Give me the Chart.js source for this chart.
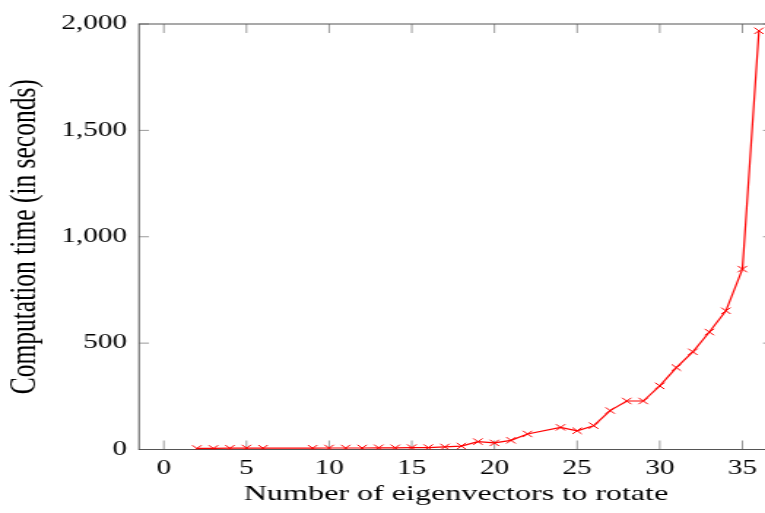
<!DOCTYPE html>
<html>
<head>
<meta charset="utf-8">
<script src="https://cdn.jsdelivr.net/npm/chart.js@4/dist/chart.umd.min.js"></script>
<style>
  html, body { margin: 0; padding: 0; overflow: hidden; background: #fff; width: 765px; height: 513px; }
  #wrap { position: absolute; left: 0; top: 0; width: 540px; height: 513px; transform: scaleX(1.46); transform-origin: 0 0; }
  canvas { display: block; }
</style>
</head>
<body>
<div id="wrap"><canvas id="c" width="540" height="513"></canvas></div>
<script>
// ---- data ----
const eigenvectors = [2, 3, 4, 5, 6, 9, 10, 11, 12, 13, 14, 15, 16, 17, 18, 19, 20, 21, 22, 24, 25, 26, 27, 28, 29, 30, 31, 32, 33, 34, 35, 36];
const seconds      = [5, 5, 6, 7, 6, 6, 7, 7, 7, 8, 8, 9, 9, 12, 16, 37, 31, 43, 73, 104, 88, 112, 183, 228, 228, 299, 385, 459, 552, 652, 848, 1968];
const xTicks = [0, 5, 10, 15, 20, 25, 30, 35];
const yTicks = [0, 500, 1000, 1500, 2000];
const xTitle = 'Number of eigenvectors to rotate';
const yTitle = 'Computation time (in seconds)';

const FONT = "'Liberation Serif', 'Times New Roman', serif";
const S = 1.46;                 // horizontal stretch of the reference
const W = 540;
const AREA_LEFT = 139 / S;
const AREA_RIGHT = 773 / S;

const framePlugin = {
  id: 'frame',
  beforeDatasetsDraw(chart) {
    const {ctx, chartArea: a, scales: {x, y}} = chart;
    ctx.save();
    ctx.lineWidth = 1;
    ctx.strokeStyle = '#9a9a9a';
    ctx.beginPath();
    x.ticks.forEach(t => {
      const px = x.getPixelForValue(t.value);
      ctx.moveTo(px, a.bottom); ctx.lineTo(px, a.bottom - 9);
      ctx.moveTo(px, a.top); ctx.lineTo(px, a.top + 9);
    });
    y.ticks.forEach(t => {
      const py = y.getPixelForValue(t.value);
      ctx.moveTo(a.left, py); ctx.lineTo(a.left + 6.8, py);
      ctx.moveTo(a.right, py); ctx.lineTo(a.right - 6.8, py);
    });
    ctx.stroke();
    ctx.strokeStyle = '#555';
    ctx.strokeRect(a.left, a.top, a.right - a.left, a.bottom - a.top);
    ctx.restore();
  }
};

new Chart(document.getElementById('c'), {
  type: 'line',
  data: {
    datasets: [{
      data: eigenvectors.map((v, i) => ({x: v, y: seconds[i]})),
      borderColor: '#ff0000',
      backgroundColor: '#ff0000',
      borderWidth: 1.2,
      pointStyle: 'crossRot',
      pointRadius: 4.5,
      pointBorderWidth: 1,
      pointBorderColor: '#ff0000',
      tension: 0,
      fill: false
    }]
  },
  options: {
    responsive: false,
    animation: false,
    devicePixelRatio: 1,
    layout: { padding: { top: 24, left: 0, bottom: 0, right: W - AREA_RIGHT } },
    plugins: { legend: { display: false }, tooltip: { enabled: false } },
    scales: {
      x: {
        type: 'linear', position: 'bottom', min: -1.5, max: 36.85,
        afterBuildTicks: s => { s.ticks = xTicks.map(v => ({value: v})); },
        afterFit: s => { s.height = 63.5; },
        ticks: { padding: 7.5, color: '#000', font: { family: FONT, size: 20 }, maxRotation: 0, autoSkip: false, includeBounds: false },
        grid: { display: false, drawTicks: false },
        border: { display: false },
        title: { display: true, text: xTitle, color: '#000', font: { family: FONT, size: 22 }, padding: { top: 0, bottom: 5.5 } }
      },
      y: {
        type: 'linear', position: 'left', min: 0, max: 2000,
        afterBuildTicks: s => { s.ticks = yTicks.map(v => ({value: v})); },
        afterFit: s => { s.width = AREA_LEFT; },
        ticks: { padding: 8.2, color: '#000', font: { family: FONT, size: 20 }, callback: v => v.toLocaleString('en-US') },
        grid: { display: false, drawTicks: false },
        border: { display: false },
        title: { display: true, text: yTitle, color: '#000', font: { family: FONT, size: 25.5 }, padding: { top: 2, bottom: 0 } }
      }
    }
  },
  plugins: [framePlugin]
});
</script>
</body>
</html>
